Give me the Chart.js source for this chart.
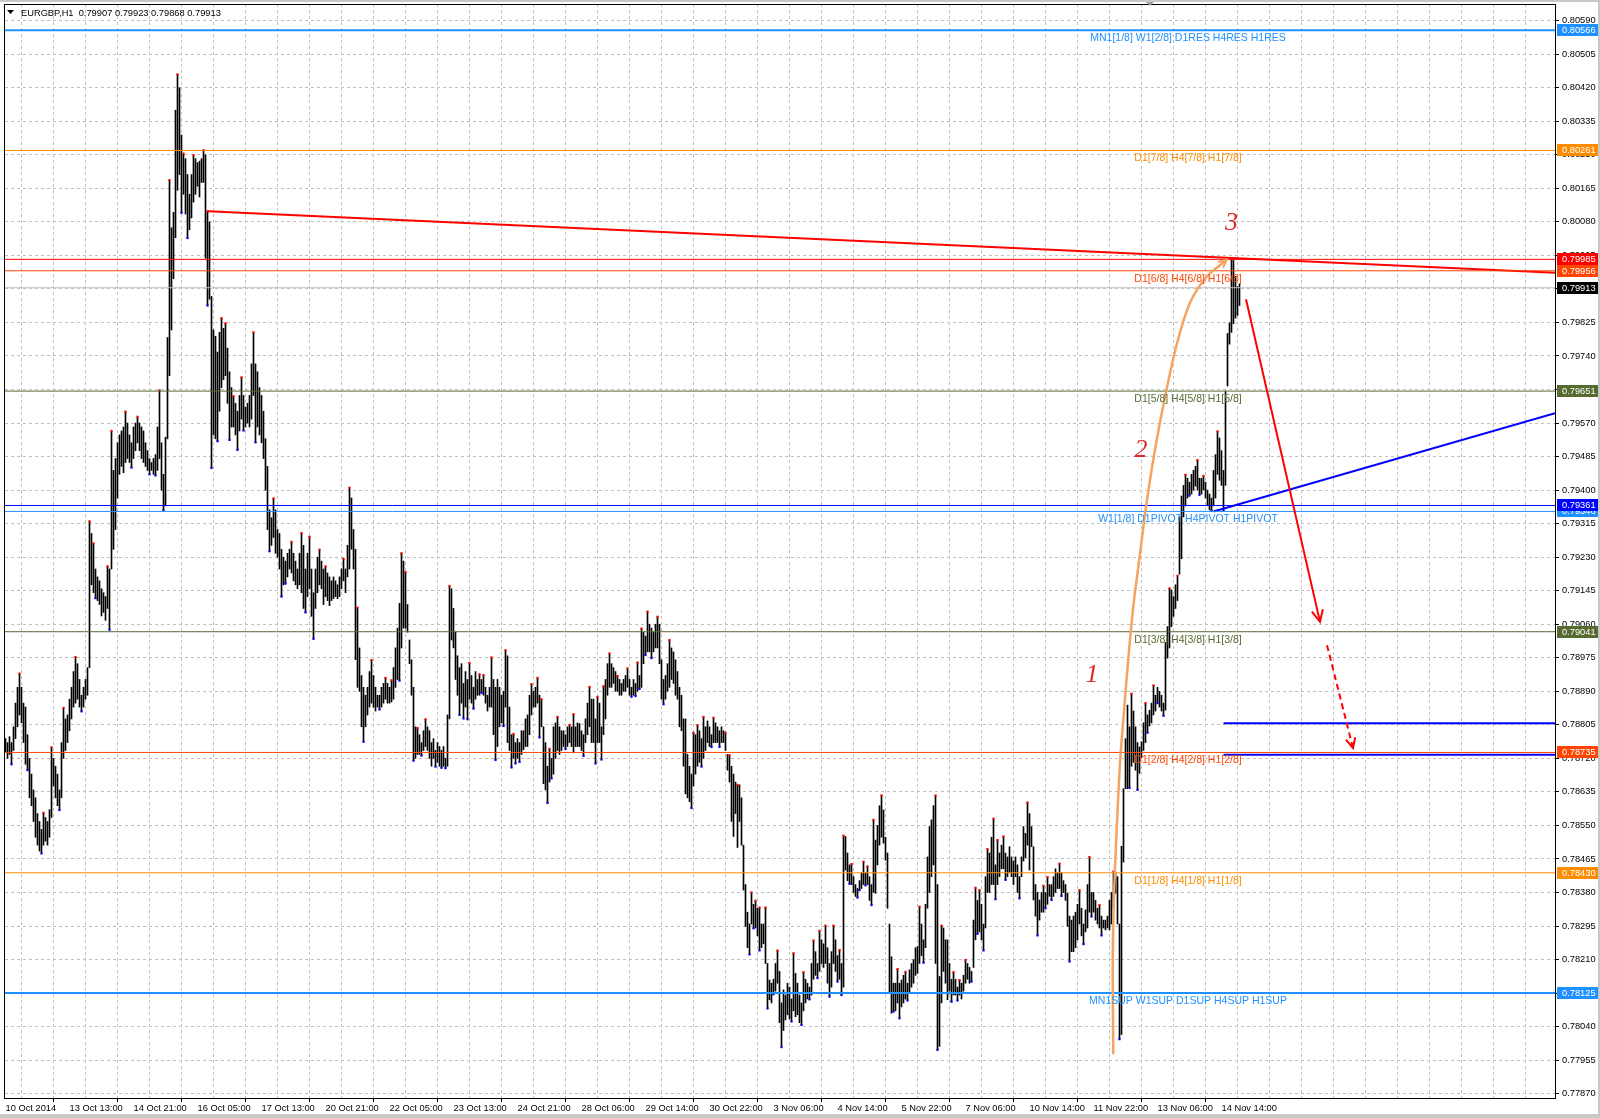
<!DOCTYPE html>
<html>
<head>
<meta charset="utf-8">
<title>EURGBP,H1</title>
<script src="https://cdn.jsdelivr.net/npm/chart.js@4.4.0/dist/chart.umd.min.js"></script>
<style>
html, body { margin: 0; padding: 0; background: #fff; }
canvas { display: block; }
</style>
</head>
<body>
<canvas id="chart" width="1600" height="1118"></canvas>
<script>
// EURGBP H1 bars, 10 Oct 2014 05:00 .. 14 Nov 2014 23:00
// all prices in points (1 point = 0.00001)
var barHigh = [
78770,78760,78775,78760,78800,78860,78900,78935,78900,78860,78850,78780,78720,78680,78640,78620,78580,78560,78540,78582,
78570,78560,78590,78748,78720,78700,78680,78640,78760,78848,78820,78830,78870,78900,78940,78977,78960,78920,78880,78900,
78920,78950,79321,79290,79265,79200,79180,79170,79150,79140,79130,79207,79200,79550,79450,79480,79520,79540,79550,79560,
79599,79570,79540,79520,79560,79570,79586,79570,79560,79550,79520,79500,79480,79470,79480,79490,79560,79653,79520,79440,
79534,79787,80186,80065,80104,80363,80454,80420,80300,80253,80240,80200,80150,80200,80249,80240,80230,80234,80240,80262,
80250,80107,80080,79891,79806,79790,79750,79800,79836,79810,79823,79760,79700,79660,79638,79620,79600,79640,79686,79640,
79610,79620,79640,79720,79800,79720,79700,79660,79640,79600,79530,79460,79350,79330,79379,79350,79300,79290,79250,79230,
79220,79240,79250,79269,79240,79220,79200,79240,79291,79260,79200,79240,79282,79200,79140,79200,79230,79249,79220,79200,
79207,79190,79180,79170,79180,79170,79160,79180,79200,79226,79200,79260,79406,79380,79300,79250,79102,79000,78930,78900,
78880,78900,78940,78969,78930,78900,78880,78880,78900,78910,78924,78910,78900,78918,78950,79000,79050,79113,79240,79220,
79192,79110,79020,78970,78900,78800,78797,78780,78760,78790,78819,78800,78790,78760,78770,78740,78760,78750,78740,78750,
78720,78830,79157,79150,79100,79040,78980,78950,78960,78910,78940,78920,78962,78930,78900,78940,78920,78933,78920,78931,
78900,78880,78900,78976,78920,78900,78920,78900,78880,78890,78994,78980,78850,78780,78782,78760,78770,78760,78790,78790,
78820,78830,78880,78908,78890,78900,78924,78880,78870,78800,78760,78700,78744,78720,78800,78810,78825,78800,78790,78790,
78780,78800,78805,78800,78832,78800,78810,78808,78790,78780,78820,78860,78901,78870,78870,78820,78876,78860,78800,78903,
78920,78960,78986,78960,78950,78940,78929,78920,78910,78920,78930,78948,78920,78900,78920,78910,78963,78930,79049,79040,
79030,79092,79060,79050,79040,79060,79079,79060,78970,78920,78930,78960,79020,79000,78990,78970,78940,78900,78880,78820,
78820,78730,78700,78680,78785,78780,78804,78790,78770,78825,78800,78815,78800,78780,78823,78810,78800,78790,78800,78790,
78785,78730,78728,78700,78680,78660,78653,78653,78620,78500,78400,78330,78300,78380,78350,78359,78340,78342,78300,78300,
78342,78200,78158,78150,78160,78200,78233,78180,78100,78133,78120,78150,78140,78110,78226,78175,78150,78120,78100,78178,
78160,78150,78140,78200,78258,78230,78200,78283,78260,78250,78296,78240,78200,78230,78296,78260,78220,78234,78200,78524,
78522,78480,78450,78452,78420,78400,78390,78410,78430,78458,78430,78446,78420,78400,78564,78513,78550,78600,78626,78589,
78520,78480,78300,78217,78150,78150,78186,78150,78158,78170,78179,78150,78184,78200,78210,78240,78243,78344,78300,78260,
78350,78470,78547,78564,78600,78626,78400,78167,78296,78290,78260,78260,78200,78160,78178,78160,78140,78158,78150,78170,
78209,78200,78190,78180,78310,78392,78360,78386,78350,78300,78420,78490,78480,78520,78567,78450,78513,78480,78500,78522,
78480,78470,78496,78470,78460,78470,78450,78420,78470,78547,78530,78608,78580,78547,78496,78400,78380,78361,78380,78397,
78380,78419,78400,78400,78420,78440,78430,78453,78430,78410,78400,78378,78320,78310,78320,78330,78350,78386,78340,78300,
78336,78400,78470,78380,78380,78360,78340,78348,78320,78310,78310,78320,78360,78380,78433,78430,78420,78300,78497,78643,
78770,78855,78800,78884,78840,78800,78760,78749,78762,78810,78860,78830,78842,78860,78905,78880,78900,78890,78880,78860,
79014,79054,79151,79147,79130,79160,79183,79332,79385,79412,79439,79430,79420,79440,79450,79460,79476,79430,79430,79436,
79420,79400,79390,79380,79450,79490,79549,79532,79500,79450,79651,79797,79824,79985,79982,79942,79916,79923
];
var barLow = [
78735,78720,78730,78705,78740,78770,78800,78830,78810,78760,78705,78690,78620,78600,78560,78520,78500,78485,78479,78500,
78510,78500,78520,78570,78650,78620,78600,78589,78620,78720,78740,78760,78790,78820,78850,78860,78870,78850,78839,78850,
78870,78880,78950,79160,79140,79126,79120,79110,79081,79090,79070,79100,79046,79200,79250,79300,79380,79440,79460,79444,
79470,79480,79470,79457,79480,79500,79520,79500,79480,79470,79460,79450,79440,79450,79440,79437,79450,79480,79400,79349,
79360,79530,79690,79806,79936,80040,80160,80200,80103,80150,80100,80039,80060,80090,80130,80150,80170,80143,80180,80180,
79988,79868,79884,79456,79540,79530,79524,79600,79660,79680,79690,79620,79527,79560,79560,79540,79502,79550,79580,79551,
79560,79570,79560,79580,79640,79521,79560,79540,79520,79480,79400,79300,79245,79260,79280,79240,79230,79200,79130,79160,
79163,79180,79200,79190,79170,79160,79150,79160,79140,79100,79090,79130,79150,79080,79023,79100,79140,79160,79150,79110,
79130,79120,79107,79120,79125,79130,79125,79130,79150,79170,79140,79180,79200,79250,79200,78970,78900,78890,78800,78762,
78800,78830,78850,78860,78850,78840,78850,78844,78850,78860,78870,78860,78860,78863,78870,78900,78920,78917,79000,79050,
79050,79040,78960,78880,78714,78720,78730,78730,78727,78740,78750,78740,78720,78700,78720,78699,78710,78700,78696,78700,
78695,78700,78820,79020,79000,78920,78880,78830,78860,78821,78850,78819,78870,78860,78846,78870,78880,78880,78886,78880,
78860,78840,78850,78850,78780,78716,78750,78800,78810,78802,78850,78760,78740,78697,78720,78707,78720,78711,78730,78742,
78750,78750,78780,78830,78850,78850,78860,78773,78800,78656,78640,78607,78660,78669,78680,78720,78740,78730,78740,78750,
78744,78750,78760,78750,78734,78750,78750,78750,78740,78726,78760,78780,78800,78760,78760,78707,78760,78760,78717,78780,
78820,78880,78900,78900,78910,78890,78890,78880,78880,78890,78890,78900,78880,78876,78880,78878,78890,78896,78900,78960,
78982,78990,78990,78974,78990,79000,79000,78960,78870,78857,78870,78890,78900,78920,78910,78880,78870,78800,78790,78700,
78630,78620,78610,78594,78650,78680,78700,78710,78699,78720,78740,78760,78750,78749,78760,78760,78760,78749,78760,78760,
78740,78690,78660,78560,78522,78580,78494,78560,78500,78386,78294,78240,78223,78300,78289,78290,78270,78233,78240,78250,
78200,78086,78108,78100,78122,78130,78150,78050,77988,78030,78057,78070,78060,78053,78080,78065,78070,78050,78044,78080,
78100,78110,78109,78120,78160,78170,78163,78180,78200,78190,78200,78150,78116,78140,78200,78180,78154,78160,78120,78140,
78437,78410,78402,78400,78380,78370,78367,78386,78390,78400,78398,78400,78360,78348,78380,78378,78450,78500,78520,78505,
78462,78340,78124,78074,78078,78080,78100,78061,78090,78100,78110,78106,78125,78140,78150,78170,78175,78200,78220,78202,
78240,78340,78380,78420,78450,78200,77981,77990,78100,78180,78150,78108,78130,78103,78120,78120,78106,78120,78110,78130,
78150,78160,78150,78154,78190,78260,78275,78280,78260,78233,78290,78380,78380,78400,78400,78363,78400,78420,78440,78440,
78412,78420,78430,78420,78400,78420,78380,78365,78420,78460,78468,78500,78437,78496,78361,78320,78271,78310,78330,78330,
78340,78350,78370,78361,78370,78380,78390,78390,78371,78380,78360,78294,78205,78230,78230,78240,78260,78300,78270,78249,
78280,78290,78330,78319,78330,78310,78300,78290,78271,78290,78285,78290,78285,78300,78340,78378,78300,78008,78020,78457,
78643,78643,78645,78700,78710,78690,78640,78682,78722,78740,78760,78785,78802,78810,78830,78840,78860,78850,78840,78828,
78842,78974,79000,79054,79080,79100,79120,79187,79226,79332,79360,79380,79386,79390,79400,79410,79400,79388,79390,79400,
79380,79360,79350,79348,79360,79380,79440,79425,79412,79348,79412,79664,79770,79800,79822,79836,79843,79868
];

// fractal marks (bar indexes)
var upFractals = [7,19,23,29,35,42,44,51,53,60,66,77,82,86,89,94,99,101,108,110,114,118,124,134,143,148,152,157,160,169,
  172,176,183,190,193,198,200,206,210,222,232,237,239,243,250,254,263,266,268,272,276,282,284,292,296,299,302,306,311,316,
  318,321,326,332,344,346,349,354,360,362,366,373,375,377,380,386,394,399,404,407,410,414,417,419,423,429,431,434,438,446,
  450,457,465,468,474,477,480,485,487,491,494,496,499,511,519,521,527,537,542,547,554,563,570,574,582,586,590,596,599,606,613];
var downFractals = [3,11,18,27,38,45,52,63,72,75,79,88,91,101,103,106,112,116,119,125,132,138,140,150,154,179,187,197,204,208,
  215,218,220,227,229,231,234,238,245,249,253,255,257,267,271,273,280,289,295,298,313,315,317,320,323,329,343,348,353,357,
  372,374,377,381,384,388,393,398,402,406,412,416,418,422,426,427,430,433,444,447,451,459,466,473,476,483,486,489,495,500,
  507,516,520,523,528,532,539,543,548,557,562,566,571,576,579,592,597,603,609];

// bottom axis, one label every 32 bars
var timeLabels = ['10 Oct 2014','13 Oct 13:00','14 Oct 21:00','16 Oct 05:00','17 Oct 13:00','20 Oct 21:00','22 Oct 05:00',
  '23 Oct 13:00','24 Oct 21:00','28 Oct 06:00','29 Oct 14:00','30 Oct 22:00','3 Nov 06:00','4 Nov 14:00','5 Nov 22:00',
  '7 Nov 06:00','10 Nov 14:00','11 Nov 22:00','13 Nov 06:00','14 Nov 14:00'];

// right axis
var priceTicks = [80590,80505,80420,80335,80250,80165,80080,79995,79910,79825,79740,79655,79570,79485,79400,79315,79230,
  79145,79060,78975,78890,78805,78720,78635,78550,78465,78380,78295,78210,78125,78040,77955,77870];

// Murrey / pivot levels
var levelValues = [80566, 80261, 79985, 79956, 79651, 79346, 79361, 79041, 78735, 78430, 78125];
var levelColors = ['#1e90ff','#ff8c00','#ff0000','#ff4500','#556b2f','#1e90ff','#0000ff','#556b2f','#ff4500','#ff8c00','#1e90ff'];
var levelWidths = [2, 1, 1, 1, 1, 1, 1, 1, 1, 1, 2];
var levelTexts = ['MN1[1/8] W1[2/8] D1RES H4RES H1RES', 'D1[7/8] H4[7/8] H1[7/8]', '', 'D1[6/8] H4[6/8] H1[6/8]',
  'D1[5/8] H4[5/8] H1[5/8]', 'W1[1/8] D1PIVOT H4PIVOT H1PIVOT', '', 'D1[3/8] H4[3/8] H1[3/8]', 'D1[2/8] H4[2/8] H1[2/8]',
  'D1[1/8] H4[1/8] H1[1/8]', 'MN1SUP W1SUP D1SUP H4SUP H1SUP'];
var captionX = 591.25;
var bidPrice = 79913;
var headerText = 'EURGBP,H1  0.79907 0.79923 0.79868 0.79913';

// drawn objects (bar index / points)
var trendRedX = [101.25, 774.75], trendRedY = [80107, 79951];
var trendBlueX = [604, 774.75], trendBlueY = [79346, 79595];
var targetX = [609, 774.75];
var targetHighY = 78809, targetLowY = 78729;
var arrowSolidX = [620.25, 657.25], arrowSolidY = [79884, 79066];
var arrowDashX = [660.75, 673.75], arrowDashY = [79007, 78746];
var curveX = [553.9, 553.6, 553.9, 554.75, 555.9, 557.25, 559.25, 561.4, 563.9, 567.25, 570.6, 574.75, 579.75, 585.6, 592.25, 600.6, 610.6];
var curveY = [77970, 78176, 78309, 78441, 78574, 78707, 78840, 78972, 79105, 79238, 79370, 79503, 79636, 79769, 79875, 79941, 79984];
var waveTexts = ['1', '2', '3'];
var waveX = [543.25, 567.75, 613];
var waveY = [78930, 79502, 80076];

var X_MIN = -0.25, X_MAX = 774.75;
var Y_MIN = 77859, Y_MAX = 80632.3;

function pts(xArr, yArr) {
	var out = [];
	for (var i = 0; i < xArr.length; i++) {
		out.push({ x: xArr[i], y: Array.isArray(yArr) ? yArr[i] : yArr });
	}
	return out;
}

function lineSet(data, color, width, extra) {
	var ds = {
		type: 'line',
		data: data,
		borderColor: color,
		borderWidth: width,
		pointRadius: 0,
		tension: 0,
		fill: false,
		order: 1
	};
	for (var k in extra) ds[k] = extra[k];
	return ds;
}

var bars = [];
for (var i = 0; i < barHigh.length; i++) {
	bars.push({ x: i, y: [barLow[i], barHigh[i]] });
}

var datasets = [{
	type: 'bar',
	data: bars,
	backgroundColor: '#000000',
	borderWidth: 0,
	barThickness: 1,
	grouped: false,
	order: 10
}, {
	type: 'line',
	data: upFractals.map(function (k) { return { x: k, y: barHigh[k] }; }),
	showLine: false,
	pointStyle: 'rect',
	pointRadius: 1.5,
	pointBorderWidth: 0,
	pointBackgroundColor: '#ff0000',
	order: 5
}, {
	type: 'line',
	data: downFractals.map(function (k) { return { x: k, y: barLow[k] }; }),
	showLine: false,
	pointStyle: 'rect',
	pointRadius: 1.5,
	pointBorderWidth: 0,
	pointBackgroundColor: '#0000ff',
	order: 5
}];

// bid line
datasets.push(lineSet(pts([X_MIN, X_MAX], bidPrice), '#c0c0c0', 1));
levelValues.forEach(function (v, k) {
	datasets.push(lineSet(pts([X_MIN, X_MAX], v), levelColors[k], levelWidths[k]));
});
datasets.push(lineSet(pts(targetX, targetHighY), '#0000ff', 2));
datasets.push(lineSet(pts(targetX, targetLowY), '#0000ff', 2));
datasets.push(lineSet(pts(trendRedX, trendRedY), '#ff0000', 2));
datasets.push(lineSet(pts(trendBlueX, trendBlueY), '#0000ff', 2));
datasets.push(lineSet(pts(curveX, curveY), '#f4a460', 2.5, { tension: 0.3, order: 0 }));
datasets.push(lineSet(pts(arrowSolidX, arrowSolidY), '#ff0000', 2, { order: 0 }));
datasets.push(lineSet(pts(arrowDashX, arrowDashY), '#ff0000', 2, { borderDash: [6, 4], order: 0 }));

var arrows = [
	{ x: arrowSolidX, y: arrowSolidY, color: '#ff0000', len: 13, width: 2 },
	{ x: arrowDashX, y: arrowDashY, color: '#ff0000', len: 11, width: 2 },
	{ x: curveX, y: curveY, color: '#f4a460', len: 9, width: 2 }
];

var xTicks = [];
for (var t = 0; t <= 768; t += 16) xTicks.push(t);

var FONT = 'Liberation Sans';
var AXIS_SIZE = 9.3;

var decor = {
	id: 'decor',
	beforeDraw: function (chart) {
		var ctx = chart.ctx;
		ctx.save();
		ctx.fillStyle = '#ffffff';
		ctx.fillRect(0, 0, chart.width, chart.height);
		ctx.restore();
	},
	afterDatasetsDraw: function (chart) {
		var ctx = chart.ctx, xs = chart.scales.x, ys = chart.scales.y, a = chart.chartArea;
		ctx.save();
		ctx.beginPath();
		ctx.rect(a.left, a.top, a.right - a.left, a.bottom - a.top);
		ctx.clip();

		//Level captions under each line
		ctx.font = '10.5px "' + FONT + '"';
		ctx.textAlign = 'center';
		ctx.textBaseline = 'middle';
		levelValues.forEach(function (v, k) {
			if (!levelTexts[k]) return;
			ctx.fillStyle = levelColors[k];
			ctx.fillText(levelTexts[k], xs.getPixelForValue(captionX), ys.getPixelForValue(v) + 8);
		});

		//Arrow heads
		arrows.forEach(function (ar) {
			var n = ar.x.length;
			var x0 = xs.getPixelForValue(ar.x[n - 2]), y0 = ys.getPixelForValue(ar.y[n - 2]);
			var x1 = xs.getPixelForValue(ar.x[n - 1]), y1 = ys.getPixelForValue(ar.y[n - 1]);
			var ang = Math.atan2(y1 - y0, x1 - x0);
			ctx.strokeStyle = ar.color;
			ctx.lineWidth = ar.width;
			ctx.setLineDash([]);
			ctx.beginPath();
			ctx.moveTo(x1 - ar.len * Math.cos(ang - 0.45), y1 - ar.len * Math.sin(ang - 0.45));
			ctx.lineTo(x1, y1);
			ctx.lineTo(x1 - ar.len * Math.cos(ang + 0.45), y1 - ar.len * Math.sin(ang + 0.45));
			ctx.stroke();
		});

		//Wave numbers
		ctx.font = 'italic 26px "Liberation Serif"';
		ctx.fillStyle = '#e02828';
		ctx.textAlign = 'center';
		ctx.textBaseline = 'middle';
		waveTexts.forEach(function (s, k) {
			ctx.fillText(s, xs.getPixelForValue(waveX[k]), ys.getPixelForValue(waveY[k]));
		});
		ctx.restore();
	},
	afterDraw: function (chart) {
		var ctx = chart.ctx, ys = chart.scales.y, a = chart.chartArea;
		ctx.save();

		//Price boxes on the right scale
		var boxes = levelValues.map(function (v, k) { return [v, levelColors[k]]; });
		boxes.push([bidPrice, '#000000']);
		ctx.font = AXIS_SIZE + 'px "' + FONT + '"';
		ctx.textAlign = 'left';
		ctx.textBaseline = 'middle';
		boxes.forEach(function (b) {
			var y = Math.round(ys.getPixelForValue(b[0]));
			ctx.fillStyle = b[1];
			ctx.fillRect(a.right + 2, y - 6, 41, 12);
			ctx.fillStyle = '#ffffff';
			ctx.fillText((b[0] / 100000).toFixed(5), a.right + 7, y + 0.5);
		});

		//Frame
		ctx.strokeStyle = '#000000';
		ctx.lineWidth = 1;
		ctx.strokeRect(4.5, 4.5, Math.round(a.right) - 4, Math.round(a.bottom) - 4);

		//Window edges
		ctx.fillStyle = '#c8c8c8';
		ctx.fillRect(0, 0, chart.width, 2);
		ctx.fillRect(0, chart.height - 4, chart.width, 4);
		ctx.fillRect(chart.width - 2, 0, 2, chart.height);

		//Chart shift marker
		ctx.fillStyle = '#a0a0a0';
		ctx.beginPath();
		ctx.moveTo(1146, 2); ctx.lineTo(1154, 2); ctx.lineTo(1150, 6);
		ctx.closePath(); ctx.fill();

		//Header
		ctx.fillStyle = '#000000';
		ctx.beginPath();
		ctx.moveTo(7, 10); ctx.lineTo(14, 10); ctx.lineTo(10.5, 14);
		ctx.closePath(); ctx.fill();
		ctx.font = AXIS_SIZE + 'px "' + FONT + '"';
		ctx.textBaseline = 'alphabetic';
		ctx.fillText(headerText, 21, 16);
		ctx.restore();
	}
};

var chart = new Chart(document.getElementById('chart'), {
	type: 'bar',
	data: { datasets: datasets },
	options: {
		responsive: false,
		devicePixelRatio: 1,
		animation: false,
		events: [],
		layout: { padding: { left: 5, top: 4, right: 0, bottom: 0 } },
		plugins: {
			legend: { display: false },
			tooltip: { enabled: false }
		},
		scales: {
			x: {
				type: 'linear',
				min: X_MIN,
				max: X_MAX,
				offset: false,
				afterBuildTicks: function (scale) {
					scale.ticks = xTicks.map(function (v) { return { value: v }; });
				},
				afterFit: function (scale) {
					scale.height = 20;
					scale.paddingLeft = 0;
					scale.paddingRight = 0;
				},
				grid: {
					color: '#c0c0c0',
					lineWidth: 1,
					drawTicks: true,
					tickLength: 4,
					tickBorderDash: [],
					tickColor: function (c) {
						return (c.tick && c.tick.value % 32 === 0 && c.tick.value <= 608) ? '#000000' : 'rgba(0,0,0,0)';
					}
				},
				border: { display: false, dash: [3, 3] },
				ticks: {
					autoSkip: false,
					maxRotation: 0,
					minRotation: 0,
					align: 'start',
					padding: 1,
					color: '#000000',
					font: { family: FONT, size: AXIS_SIZE },
					callback: function (v) {
						return (v % 32 === 0 && v / 32 < timeLabels.length) ? timeLabels[v / 32] : '';
					}
				}
			},
			y: {
				type: 'linear',
				position: 'right',
				min: Y_MIN,
				max: Y_MAX,
				afterBuildTicks: function (scale) {
					scale.ticks = priceTicks.map(function (v) { return { value: v }; });
				},
				afterFit: function (scale) {
					scale.width = 45;
					scale.paddingTop = 0;
					scale.paddingBottom = 0;
				},
				grid: {
					color: '#c0c0c0',
					lineWidth: 1,
					drawTicks: true,
					tickLength: 4,
					tickBorderDash: [],
					tickColor: '#000000'
				},
				border: { display: false, dash: [3, 3] },
				ticks: {
					autoSkip: false,
					padding: 3,
					color: '#000000',
					font: { family: FONT, size: AXIS_SIZE },
					callback: function (v) { return (v / 100000).toFixed(5); }
				}
			}
		}
	},
	plugins: [decor]
});
</script>
</body>
</html>
